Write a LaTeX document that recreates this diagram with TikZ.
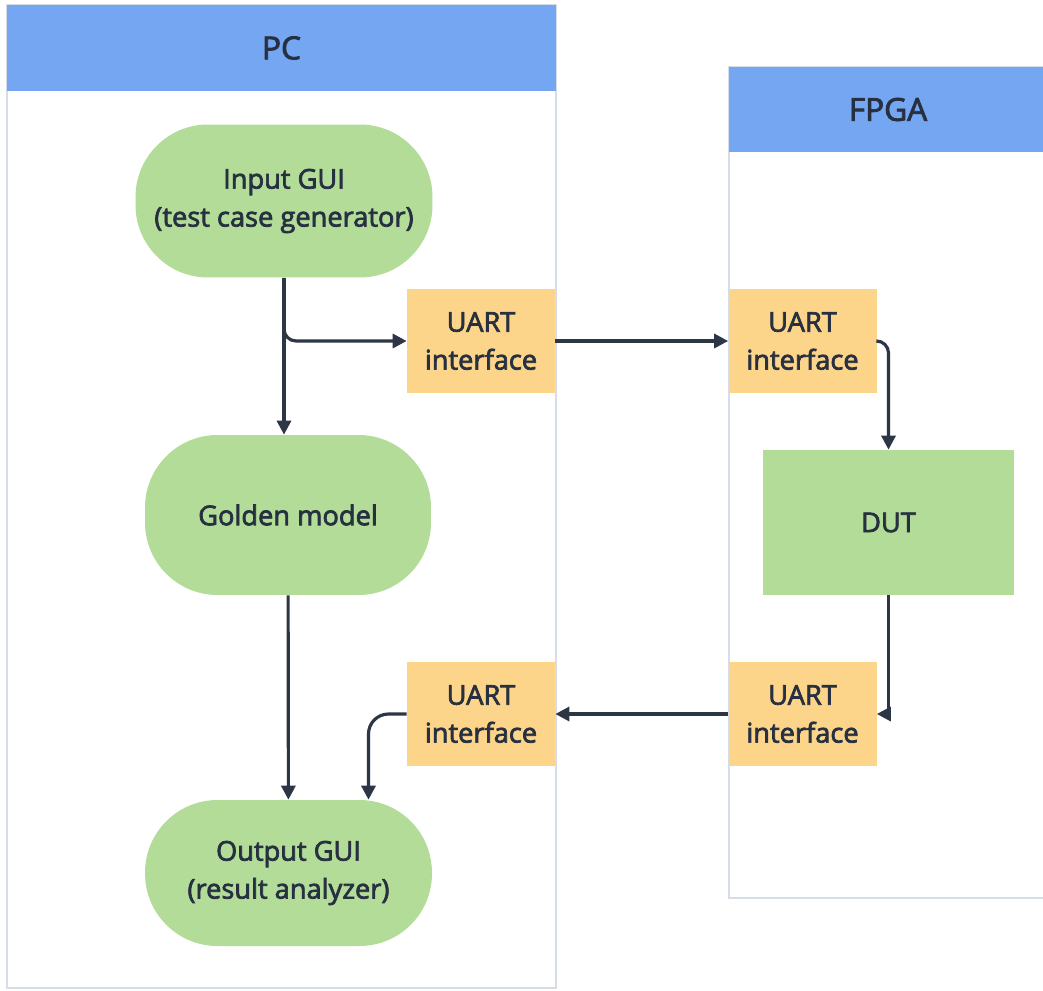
\documentclass[tikz,border=0pt]{standalone}
\usepackage{fontspec}
\setmainfont{Open Sans}[FakeBold=2.6]
\usetikzlibrary{arrows.meta}
\definecolor{headblue}{HTML}{74A6F2}
\definecolor{laneline}{HTML}{D6DDE6}
\definecolor{procgreen}{HTML}{B2DC98}
\definecolor{uartorange}{HTML}{FDD58A}
\definecolor{inktext}{HTML}{263040}
\definecolor{inkline}{HTML}{2D3645}
\begin{document}
\begin{tikzpicture}[x=0.02cm, y=-0.02cm,
  lane/.style={draw=laneline, line width=1.2pt, fill=white, inner sep=0pt},
  lanehead/.style={fill=headblue, text=inktext, inner sep=0pt, font=\fontsize{18}{21}\selectfont},
  proc/.style={fill=procgreen, text=inktext, align=center, inner sep=0pt, font=\fontsize{15.5}{21.6}\selectfont},
  stadium/.style={proc, rounded corners=1.45cm},
  uart/.style={fill=uartorange, text=inktext, align=center, inner sep=0pt, minimum width=2.96cm, minimum height=2.08cm, font=\fontsize{15.5}{21.6}\selectfont},
  flow/.style={draw=inkline, line width=1.8pt, -{Triangle[length=0.28cm,width=0.28cm]}}]
\clip (0,0) rectangle (1043,990);
\fill[white] (0,0) rectangle (1043,990);
% swimlanes
\node[lane, minimum width=10.98cm, minimum height=19.66cm] (pclane) at (281.5,496.5){};
\node[lanehead, minimum width=10.98cm, minimum height=1.72cm] (pchead) at (281.5,48){PC};
\node[lane, minimum width=6.36cm, minimum height=16.62cm] (fpgalane) at (888,482.5){};
\node[lanehead, minimum width=6.36cm, minimum height=1.7cm] (fpgahead) at (888,109.5){FPGA};
% PC side
\node[stadium, minimum width=5.94cm, minimum height=3.06cm] (input) at (284,201){Input GUI\\(test case generator)};
\node[stadium, minimum width=5.72cm, minimum height=3.2cm] (golden) at (288,515){Golden model};
\node[stadium, minimum width=5.74cm, minimum height=2.92cm] (output) at (288.5,873){Output GUI\\(result analyzer)};
\node[uart] (pctx) at (481,341){UART\\interface};
\node[uart] (pcrx) at (481,714){UART\\interface};
% FPGA side
\node[uart] (fpgarx) at (802.5,341){UART\\interface};
\node[uart] (fpgatx) at (802.5,714){UART\\interface};
\node[proc, minimum width=5.02cm, minimum height=2.9cm] (dut) at (888.5,522.5){DUT};
% connectors
\draw[flow](input.south) -- (input.south |- golden.north);
\draw[flow, rounded corners=0.24cm](input.south) |- (pctx.west);
\draw[flow](pctx) -- (fpgarx);
\draw[flow, rounded corners=0.24cm](fpgarx.east) -| (dut.north);
\draw[flow](dut.south) |- (fpgatx.east);
\draw[flow](fpgatx) -- (pcrx);
\draw[flow, rounded corners=0.4cm](pcrx.west) -| ([xshift=1.6cm]output.north);
\draw[flow](golden) -- (output);
\end{tikzpicture}
\end{document}
